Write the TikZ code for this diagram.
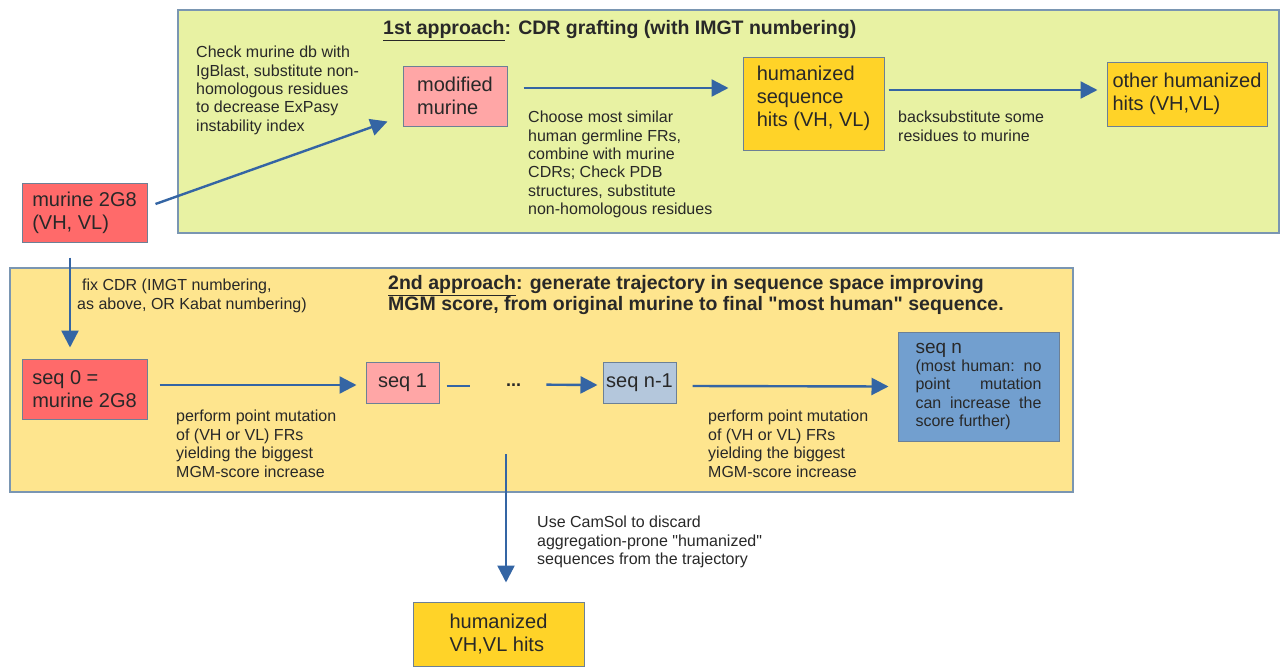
\documentclass[tikz,border=0pt]{standalone}
\usepackage{fontspec}
\setmainfont{Liberation Sans}
\usetikzlibrary{arrows.meta}
\definecolor{greenbg}{RGB}{232,242,163}
\definecolor{yellowbg}{RGB}{254,229,142}
\definecolor{panelline}{RGB}{122,150,178}
\definecolor{boxline}{RGB}{108,128,150}
\definecolor{murred}{RGB}{255,106,106}
\definecolor{murpink}{RGB}{255,166,166}
\definecolor{humgold}{RGB}{255,211,40}
\definecolor{paleblue}{RGB}{180,199,220}
\definecolor{midblue}{RGB}{114,159,207}
\definecolor{arrowblue}{RGB}{52,101,164}
\definecolor{ink}{RGB}{40,40,40}

\begin{document}
\begin{tikzpicture}[x=1pt, y=-1pt,
	box/.style={draw=boxline, line width=1pt, text=ink, align=left, inner sep=0pt, font=\fontsize{20}{23}\selectfont},
	note/.style={anchor=north west, inner sep=0pt, text=ink, align=left, font=\fontsize{16}{18.4}\selectfont},
	heading/.style={anchor=north west, inner sep=0pt, text=ink, align=left, font=\bfseries\fontsize{19.5}{21.5}\selectfont},
	flow/.style={draw=arrowblue, line width=2.4pt, -{Triangle[length=17pt,width=17pt]}},
	link/.style={draw=arrowblue, line width=2.4pt},
	panel/.style={draw=panelline, line width=1.2pt}]
	\useasboundingbox (0,0) rectangle (1285,667);
	\draw[panel, fill=greenbg] (178,10) rectangle (1279,233);
	\draw[panel, fill=yellowbg] (10,268) rectangle (1073,492);

	\node[heading] (t1) at (383,20) {\underline{1st approach}: CDR grafting (with IMGT numbering)};
	\node[heading] (t2) at (388,275) {\underline{2nd approach}: generate trajectory in sequence space improving\\MGM score, from original murine to final \textquotedbl most human\textquotedbl{} sequence.};

	\node[box, fill=murred, minimum width=125pt, minimum height=59pt] (mur) at (84.5,212.5) {murine 2G8\\(VH, VL)};
	\node[box, fill=murpink, minimum width=104pt, minimum height=60pt] (mod) at (455,96) {modified\\murine};
	\node[box, fill=humgold, minimum width=141pt, minimum height=93pt] (hum) at (813.5,103.5) {humanized\\sequence\\hits (VH, VL)\\[-9pt]\mbox{}};
	\node[box, fill=humgold, minimum width=160pt, minimum height=64pt] (oth) at (1187,94) {other humanized\\hits (VH,VL)};
	\node[box, fill=murred, minimum width=125pt, minimum height=60pt] (s0) at (84.5,389) {seq 0 =\\murine 2G8};
	\node[box, fill=murpink, minimum width=73pt, minimum height=41pt] (s1) at (402.5,382.5) {seq 1};
	\node[box, fill=paleblue, minimum width=73pt, minimum height=41pt] (sn1) at (639.5,382.5) {seq n-1};
	\node[box, fill=midblue, minimum width=161pt, minimum height=109pt, font=\fontsize{16}{18.4}\selectfont] (sn) at (978.5,386.5) {{\fontsize{19}{20}\selectfont seq n}\\\makebox[126pt][s]{(most human: no}\\\makebox[126pt][s]{point mutation}\\\makebox[126pt][s]{can increase the}\\score further)};
	\node[box, fill=humgold, minimum width=171pt, minimum height=64pt] (hits) at (498.5,634) {humanized\\VH,VL hits};
	\node[anchor=base west, inner sep=0pt, text=ink, font=\bfseries\fontsize{18}{20}\selectfont] (dots) at (506,386) {...};

	\node[note] (chk) at (196,46) {Check murine db with\\IgBlast, substitute non-\\homologous residues\\to decrease ExPasy\\instability index};
	\node[note] (cho) at (528,111) {Choose most similar\\human germline FRs,\\combine with murine\\CDRs; Check PDB\\structures, substitute\\non-homologous residues};
	\node[note] (bck) at (898,111) {backsubstitute some\\residues to murine};
	\node[note] (fix) at (77,279) {\hspace*{5pt}fix CDR (IMGT numbering,\\as above, OR Kabat numbering)};
	\node[note] (pm1) at (176,410) {perform point mutation\\of (VH or VL) FRs\\yielding the biggest\\MGM-score increase};
	\node[note] (pm2) at (708,410) {perform point mutation\\of (VH or VL) FRs\\yielding the biggest\\MGM-score increase};
	\node[note] (cam) at (537,516) {Use CamSol to discard\\aggregation-prone \textquotedbl humanized\textquotedbl\\sequences from the trajectory};

	\coordinate (gap) at (470,386);
	\coordinate (traj) at (506,454);

	\draw[flow] ([xshift=8pt,yshift=8.5pt]mur.east) -- ([xshift=-15pt,yshift=5pt]mod.south west);
	\draw[flow] ([xshift=16pt,yshift=8pt]mod.east) -- ([xshift=-14pt,yshift=15.5pt]hum.west);
	\draw[flow] ([xshift=4pt,yshift=13.5pt]hum.east) -- ([xshift=-9pt,yshift=4pt]oth.west);
	\draw[flow] ([xshift=-14.5pt,yshift=-15pt]mur.south) -- ([xshift=-14.5pt,yshift=11pt]s0.north);
	\draw[flow] ([xshift=12pt,yshift=4pt]s0.east) -- ([xshift=-9pt,yshift=-2.5pt]s1.west);
	\draw[link] ([xshift=7pt,yshift=-3.5pt]s1.east) -- (gap);
	\draw[flow] ([xshift=25pt]dots.east) -- ([xshift=-5pt,yshift=-2.5pt]sn1.west);
	\draw[flow] ([xshift=16pt,yshift=-3.5pt]sn1.east) -- ([xshift=-9pt]sn.west);
	\draw[flow] (traj) -- ([xshift=7.5pt,yshift=19pt]hits.north);
\end{tikzpicture}
\end{document}
